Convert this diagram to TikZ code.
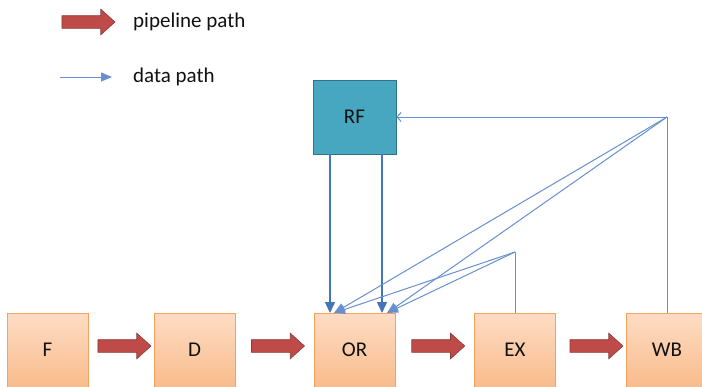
\documentclass[tikz,border=0pt]{standalone}
\usepackage{fontspec}
\setmainfont{Carlito}
\usetikzlibrary{shapes.arrows,arrows.meta,calc}

\definecolor{stageTop}{HTML}{FDDCC4}
\definecolor{stageBot}{HTML}{F9BC8C}
\definecolor{stageLine}{HTML}{F6A15E}
\definecolor{rfFill}{HTML}{47A7C1}
\definecolor{rfLine}{HTML}{2E7487}
\definecolor{pipeFill}{HTML}{BE4B48}
\definecolor{pipeLine}{HTML}{8C3A37}
\definecolor{dataLine}{HTML}{6690CF}
\definecolor{feedLine}{HTML}{4474BA}
\definecolor{labelInk}{HTML}{111111}

\begin{document}
\begin{tikzpicture}[x=1pt,y=-1pt,
  stage/.style={draw=stageLine,line width=0.8pt,top color=stageTop,bottom color=stageBot,
    minimum width=81pt,minimum height=74pt,font=\fontsize{21}{25}\selectfont,text=labelInk},
  regfile/.style={draw=rfLine,line width=0.9pt,fill=rfFill,
    minimum width=83pt,minimum height=74pt,font=\fontsize{21}{25}\selectfont,text=labelInk},
  pipe/.style={single arrow,draw=pipeLine,fill=pipeFill,line width=0.6pt,inner sep=6pt,
    minimum height=53pt,minimum width=25pt,single arrow head extend=6.5pt,single arrow tip angle=84},
  legendtext/.style={anchor=west,inner sep=0pt,font=\fontsize{21}{25}\selectfont,text=labelInk},
  data/.style={draw=dataLine,line width=1pt,-{Triangle[length=11pt,width=9pt]}},
  feed/.style={draw=feedLine,line width=1.5pt,-{Triangle[length=11pt,width=10pt]}},
  tap/.style={draw=dataLine,line width=1pt}]

  \clip (0,0) rectangle (702,386);

  \node[pipe] (legPipe) at (85,22) {};
  \node[legendtext] (legPipeText) at (133,22) {pipeline path};
  \coordinate (legDataA) at (60,77);
  \coordinate (legDataB) at (112,77);
  \draw[data] (legDataA) -- (legDataB);
  \node[legendtext] (legDataText) at (133,77) {data path};

  \node[stage] (F) at (47.5,350) {F};
  \node[stage] (D) at (194.5,350) {D};
  \node[stage] (OR) at (354.5,350) {OR};
  \node[stage] (EX) at (515,350) {EX};
  \node[stage] (WB) at (667,350) {WB};
  \node[regfile] (RF) at (354.5,117) {RF};

  \node[pipe] (fToD) at ($(F.east)!.5!(D.west)+(0,-4)$) {};
  \node[pipe] (dToOr) at ($(D.east)!.5!(OR.west)+(0,-4)$) {};
  \node[pipe] (orToEx) at ($(OR.east)!.5!(EX.west)+(0,-4)$) {};
  \node[pipe] (exToWb) at ($(EX.east)!.5!(WB.west)+(2,-4)$) {};

  \coordinate (orL) at (330,313);
  \coordinate (orR) at (382,313);
  \coordinate (exTap) at (515,252);
  \coordinate (wbTap) at (667,117);

  \draw[feed] (RF.south -| orL) -- (orL);
  \draw[feed] (RF.south -| orR) -- (orR);
  \draw[tap] (EX.north) -- (exTap);
  \draw[tap] (WB.north) -- (wbTap);
  \draw[tap,-{Straight Barb[length=4pt,width=9pt]}] (wbTap) -- (RF.east);
  \draw[data] (wbTap) -- ($(orL)+(4,0)$);
  \draw[data] (wbTap) -- ($(orR)+(5,0)$);
  \draw[data] (exTap) -- ($(orL)+(4,0)$);
  \draw[data] (exTap) -- ($(orR)+(5,0)$);
\end{tikzpicture}
\end{document}
